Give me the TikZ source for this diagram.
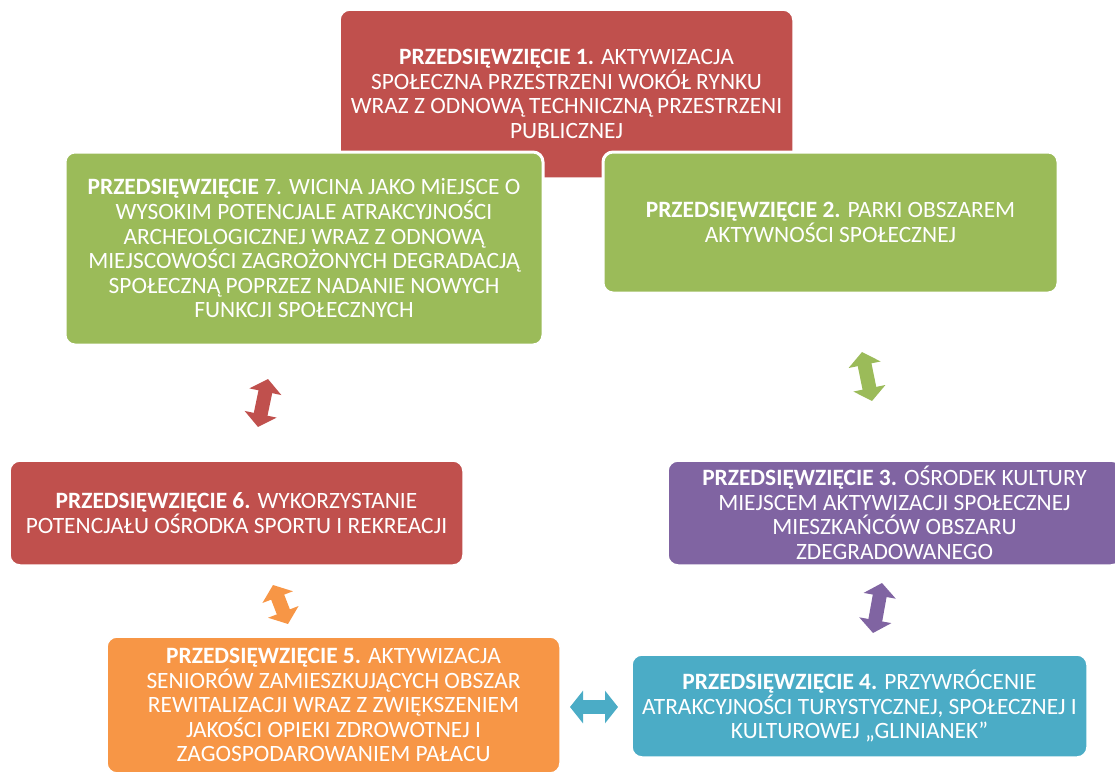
\documentclass[tikz,border=0pt]{standalone}
\usepackage{fontspec}
\setmainfont{Carlito}
\usetikzlibrary{arrows.meta}

\definecolor{boxred}{HTML}{C0504D}
\definecolor{boxgreen}{HTML}{9BBB59}
\definecolor{boxviolet}{HTML}{8064A2}
\definecolor{boxteal}{HTML}{4BACC6}
\definecolor{boxorange}{HTML}{F79646}

\tikzset{
  box/.style = {shape = rectangle, rounded corners = 10pt, draw = white,
    line width = 1.5pt, text = white, align = center, inner sep = 0pt,
    font = \fontsize{23.4}{24.6}\selectfont},
  link/.style = {line width = 14pt,
    {Triangle[width = 32pt, length = 13pt]}-{Triangle[width = 32pt, length = 13pt]}},
}

\begin{document}
\begin{tikzpicture}[x = 1pt, y = -1pt]
        \useasboundingbox (0, 0) rectangle (1115, 771);
        \clip (0, 0) rectangle (1115, 771);

        % ------------------------------------------------------------------------
        % Top
        \node[box, fill = boxred, minimum width = 453, minimum height = 168]
          at (566.5, 94) (p1)
          {\textbf{PRZEDSIĘWZIĘCIE 1.} AKTYWIZACJA\\SPOŁECZNA PRZESTRZENI WOKÓŁ RYNKU\\WRAZ Z ODNOWĄ TECHNICZNĄ PRZESTRZENI\\PUBLICZNEJ};

        \node[box, fill = boxgreen, line width = 3pt, minimum width = 478, minimum height = 193]
          at (304, 248.5) (p7)
          {\textbf{PRZEDSIĘWZIĘCIE} 7. WICINA JAKO MiEJSCE O\\WYSOKIM POTENCJALE ATRAKCYJNOŚCI\\ARCHEOLOGICZNEJ WRAZ Z ODNOWĄ\\MIEJSCOWOŚCI ZAGROŻONYCH DEGRADACJĄ\\SPOŁECZNĄ POPRZEZ NADANIE NOWYCH\\FUNKCJI SPOŁECZNYCH};

        \node[box, fill = boxgreen, line width = 3pt, minimum width = 455, minimum height = 141]
          at (830.5, 222.5) (p2)
          {\textbf{PRZEDSIĘWZIĘCIE 2.} PARKI OBSZAREM\\AKTYWNOŚCI SPOŁECZNEJ};

        % ------------------------------------------------------------------------
        % Middle
        \node[box, fill = boxred, minimum width = 453, minimum height = 104]
          at (236.5, 513) (p6)
          {\textbf{PRZEDSIĘWZIĘCIE 6.} WYKORZYSTANIE\\POTENCJAŁU OŚRODKA SPORTU I REKREACJI};

        \node[box, fill = boxviolet, minimum width = 453, minimum height = 104]
          at (894.5, 513) (p3)
          {\textbf{PRZEDSIĘWZIĘCIE 3.} OŚRODEK KULTURY\\MIEJSCEM AKTYWIZACJI SPOŁECZNEJ\\MIESZKAŃCÓW OBSZARU\\ZDEGRADOWANEGO};

        % ------------------------------------------------------------------------
        % Bottom
        \node[box, fill = boxorange, minimum width = 453, minimum height = 136]
          at (333.5, 705) (p5)
          {\textbf{PRZEDSIĘWZIĘCIE 5.} AKTYWIZACJA\\SENIORÓW ZAMIESZKUJĄCYCH OBSZAR\\REWITALIZACJI WRAZ Z ZWIĘKSZENIEM\\JAKOŚCI OPIEKI ZDROWOTNEJ I\\ZAGOSPODAROWANIEM PAŁACU};

        \node[box, fill = boxteal, minimum width = 455, minimum height = 102]
          at (859.5, 706) (p4)
          {\textbf{PRZEDSIĘWZIĘCIE 4.} PRZYWRÓCENIE\\ATRAKCYJNOŚCI TURYSTYCZNEJ, SPOŁECZNEJ I\\KULTUROWEJ „GLINIANEK”};

        % ------------------------------------------------------------------------
        % Arrows
        \coordinate (a7) at (268, 379);
        \coordinate (a6) at (258, 427);
        \coordinate (b6) at (273, 585);
        \coordinate (b5) at (288, 624);
        \coordinate (c5) at (570, 707);
        \coordinate (c4) at (618, 707);
        \coordinate (d4) at (873, 633);
        \coordinate (d3) at (882, 583);
        \coordinate (e3) at (872, 401);
        \coordinate (e2) at (862, 352);

        \draw[link, boxred]    (a7) -- (a6);
        \draw[link, boxorange] (b6) -- (b5);
        \draw[link, boxteal]   (c5) -- (c4);
        \draw[link, boxviolet] (d4) -- (d3);
        \draw[link, boxgreen]  (e3) -- (e2);
\end{tikzpicture}
\end{document}
